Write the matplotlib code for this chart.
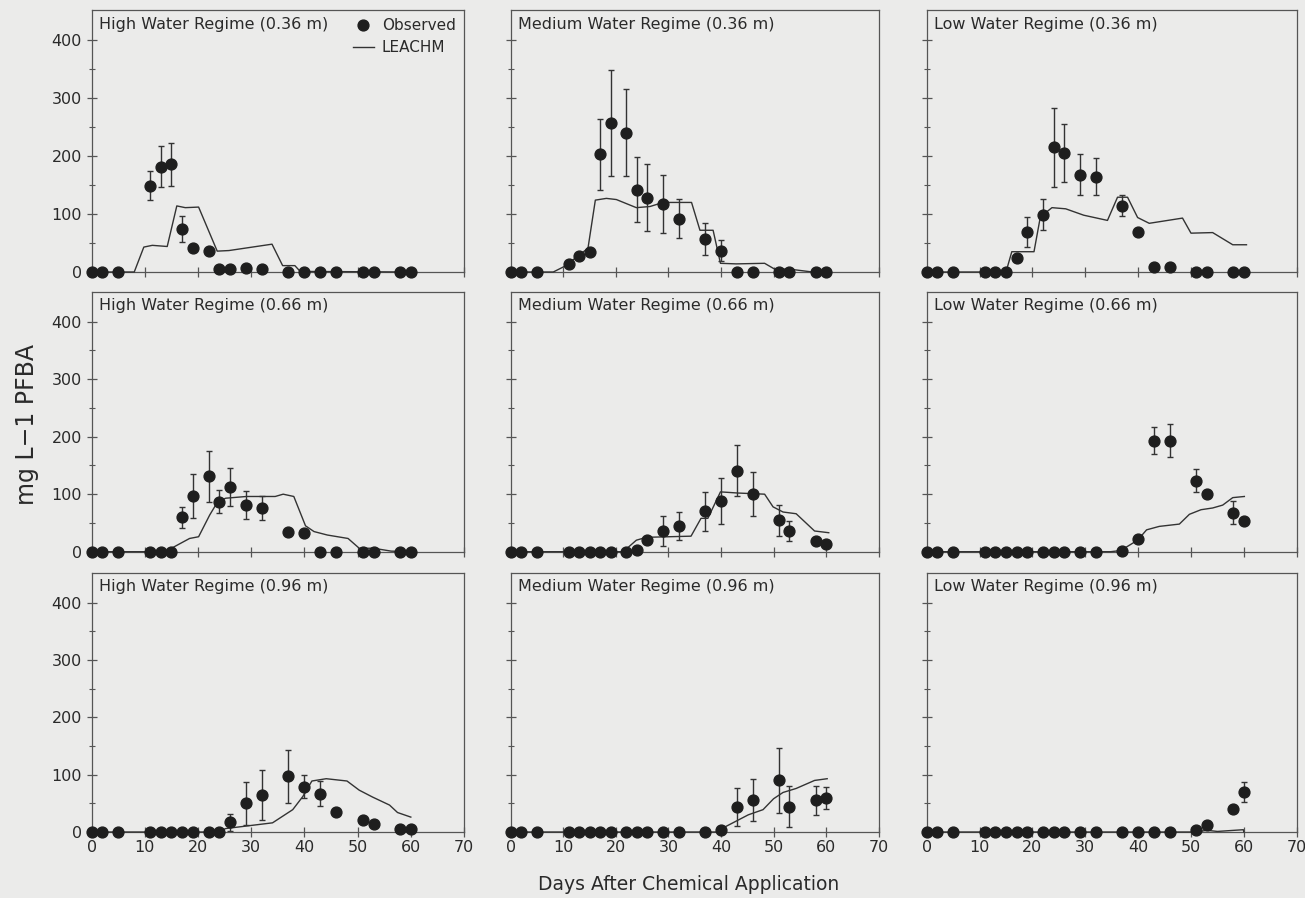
import matplotlib
matplotlib.use("Agg")
import matplotlib.pyplot as plt
import numpy as np

# sampling days for the observed PFBA concentrations (same in every panel)
days = [0, 2, 5, 11, 13, 15, 17, 19, 22, 24, 26, 29, 32, 37, 40, 43, 46, 51, 53, 58, 60]

regimes = ["High", "Medium", "Low"]
depths = ["0.36", "0.66", "0.96"]

# observed means, mg/L  (row = depth, col = regime)
obs_high_036 = [0, 0, 0, 149, 182, 186, 74, 41, 37, 6, 5, 7, 6, 0, 0, 0, 0, 0, 0, 0, 0]
obs_med_036 = [0, 0, 0, 13, 27, 35, 203, 257, 240, 142, 128, 118, 92, 57, 37, 0, 0, 0, 0, 0, 0]
obs_low_036 = [0, 0, 0, 0, 0, 0, 25, 69, 99, 215, 205, 168, 164, 114, 69, 8, 8, 0, 0, 0, 0]
obs_high_066 = [0, 0, 0, 0, 0, 0, 60, 97, 131, 87, 112, 81, 76, 35, 32, 0, 0, 0, 0, 0, 0]
obs_med_066 = [0, 0, 0, 0, 0, 0, 0, 0, 0, 3, 20, 36, 45, 70, 88, 141, 100, 55, 36, 18, 13]
obs_low_066 = [0, 0, 0, 0, 0, 0, 0, 0, 0, 0, 0, 0, 0, 2, 22, 193, 193, 123, 101, 68, 54]
obs_high_096 = [0, 0, 0, 0, 0, 0, 0, 0, 0, 0, 17, 50, 65, 97, 79, 67, 35, 21, 14, 5, 5]
obs_med_096 = [0, 0, 0, 0, 0, 0, 0, 0, 0, 0, 0, 0, 0, 0, 4, 43, 56, 90, 44, 55, 60]
obs_low_096 = [0, 0, 0, 0, 0, 0, 0, 0, 0, 0, 0, 0, 0, 0, 0, 0, 0, 4, 13, 41, 70]

# standard errors (0 = no bar drawn)
err_high_036 = [0, 0, 0, 25, 35, 37, 23, 0, 0, 0, 0, 0, 0, 0, 0, 0, 0, 0, 0, 0, 0]
err_med_036 = [0, 0, 0, 0, 5, 0, 61, 91, 75, 56, 58, 50, 34, 28, 18, 0, 0, 0, 0, 0, 0]
err_low_036 = [0, 0, 0, 0, 0, 0, 0, 26, 27, 68, 50, 35, 32, 18, 0, 0, 0, 0, 0, 0, 0]
err_high_066 = [0, 0, 0, 0, 0, 0, 18, 38, 44, 20, 33, 25, 21, 0, 0, 0, 0, 0, 0, 0, 0]
err_med_066 = [0, 0, 0, 0, 0, 0, 0, 0, 0, 0, 0, 26, 24, 34, 40, 45, 38, 27, 18, 0, 0]
err_low_066 = [0, 0, 0, 0, 0, 0, 0, 0, 0, 0, 0, 0, 0, 0, 0, 23, 29, 20, 0, 20, 0]
err_high_096 = [0, 0, 0, 0, 0, 0, 0, 0, 0, 0, 15, 37, 44, 46, 20, 22, 0, 0, 0, 0, 0]
err_med_096 = [0, 0, 0, 0, 0, 0, 0, 0, 0, 0, 0, 0, 0, 0, 0, 33, 36, 57, 36, 25, 19]
err_low_096 = [0, 0, 0, 0, 0, 0, 0, 0, 0, 0, 0, 0, 0, 0, 0, 0, 0, 0, 0, 0, 18]

# LEACHM simulated curves (day, mg/L)
sim_x_high_036 = [0, 8, 9.8, 11.4, 14.2, 16, 17.6, 20.1, 23.6, 25.8, 33.9, 35.9, 38.2, 39.2, 60]
sim_y_high_036 = [0, 0, 43, 46, 44, 114, 111, 112, 36, 37, 48, 11, 11, 1, 0]
sim_x_med_036 = [0, 8.1, 10.3, 14.7, 16.1, 18.2, 20.1, 23.9, 26.5, 29, 34.4, 36, 38.5, 39.9, 42.9, 48.3, 50.2, 53, 57.4, 60]
sim_y_med_036 = [0, 0, 10, 41, 124, 127, 125, 111, 113, 120, 120, 72, 72, 15, 14, 15, 5, 5, 0, 0]
sim_x_low_036 = [0, 15, 16.1, 20.3, 21.5, 23.7, 26.3, 29.7, 34.2, 36.1, 38, 39.9, 42.1, 48.4, 50, 54.1, 57.9, 60.5]
sim_y_low_036 = [0, 0, 35, 35, 95, 111, 109, 98, 89, 129, 129, 94, 84, 93, 67, 68, 47, 47]
sim_x_high_066 = [0, 14, 15, 18.4, 20.1, 22.2, 23.7, 25.2, 29.1, 34.5, 36, 38, 40.2, 41.8, 44.3, 48.2, 50.3, 53, 56.3, 60]
sim_y_high_066 = [0, 0, 6, 23, 26, 64, 87, 93, 96, 96, 100, 96, 45, 35, 29, 23, 6, 6, 1, 0]
sim_x_med_066 = [0, 21.4, 23.9, 25.8, 34.3, 36.2, 37.5, 39.9, 43.2, 48.3, 49.9, 51.8, 54.3, 57.8, 60.5]
sim_y_med_066 = [0, 0, 20, 25, 27, 58, 58, 104, 102, 100, 78, 69, 66, 36, 33]
sim_x_low_066 = [0, 34.8, 36.7, 39.9, 41.6, 44, 47.8, 49.7, 51.9, 54.1, 56, 57.9, 60.1]
sim_y_low_066 = [0, 0, 2, 20, 38, 44, 48, 65, 73, 76, 81, 94, 96]
sim_x_high_096 = [0, 23.6, 25.2, 34, 37.8, 39.7, 41.4, 44.1, 48, 50.3, 52.8, 56, 57.5, 60]
sim_y_high_096 = [0, 0, 6, 16, 39, 62, 89, 93, 89, 73, 61, 47, 34, 26]
sim_x_med_096 = [0, 39.5, 41, 45.2, 48, 50, 51.8, 54.3, 57.8, 60.2]
sim_y_med_096 = [0, 0, 10, 30, 39, 58, 69, 76, 90, 93]
sim_x_low_096 = [0, 51, 53, 55, 59.9, 60]
sim_y_low_096 = [0, 0, 3, 1, 4, 0]

obs = [[obs_high_036, obs_med_036, obs_low_036],
       [obs_high_066, obs_med_066, obs_low_066],
       [obs_high_096, obs_med_096, obs_low_096]]
err = [[err_high_036, err_med_036, err_low_036],
       [err_high_066, err_med_066, err_low_066],
       [err_high_096, err_med_096, err_low_096]]
sim_x = [[sim_x_high_036, sim_x_med_036, sim_x_low_036],
         [sim_x_high_066, sim_x_med_066, sim_x_low_066],
         [sim_x_high_096, sim_x_med_096, sim_x_low_096]]
sim_y = [[sim_y_high_036, sim_y_med_036, sim_y_low_036],
         [sim_y_high_066, sim_y_med_066, sim_y_low_066],
         [sim_y_high_096, sim_y_med_096, sim_y_low_096]]

bg = "#ebebea"
ink = "#2a2a2a"
plt.rcParams["font.family"] = ["DejaVu Sans"]
plt.rcParams["text.color"] = ink
plt.rcParams["axes.edgecolor"] = "#555555"
plt.rcParams["xtick.color"] = "#555555"
plt.rcParams["ytick.color"] = "#555555"
plt.rcParams["xtick.labelcolor"] = ink
plt.rcParams["ytick.labelcolor"] = ink

fig = plt.figure(figsize=(13.05, 8.98), dpi=100, facecolor=bg)

# axes boxes in pixels (left, right) and (top, bottom)
col_px = [(91.7, 464), (510.7, 878.7), (926.7, 1296.7)]
row_px = [(10, 272), (291.7, 551.7), (573, 832)]
W, H = 1305, 898

for r in range(3):
    for c in range(3):
        x0, x1 = col_px[c]
        y0, y1 = row_px[r]
        ax = fig.add_axes([x0 / W, 1 - y1 / H, (x1 - x0) / W, (y1 - y0) / H])
        ax.set_facecolor(bg)
        ax.set_xlim(0, 70)
        ax.set_ylim(0, 452)
        ax.set_xticks(np.arange(0, 71, 10))
        ax.set_yticks(np.arange(0, 401, 100))
        ax.set_yticks(np.arange(50, 401, 100), minor=True)
        ax.tick_params(direction="inout", length=7, width=0.9, labelsize=11.5)
        ax.tick_params(axis="x", pad=2)
        ax.tick_params(which="minor", direction="inout", length=5, width=0.8)
        for sp in ax.spines.values():
            sp.set_linewidth(0.9)
        if c != 0:
            ax.set_yticklabels([])
        if r != 2:
            ax.set_xticklabels([])

        y = np.array(obs[r][c], dtype=float)
        e = np.array(err[r][c], dtype=float)
        d = np.array(days, dtype=float)
        m = e > 0
        if m.any():
            ax.errorbar(d[m], y[m], yerr=e[m], fmt="none", ecolor="#333333",
                        elinewidth=1.0, capsize=2, capthick=1.0, clip_on=False, zorder=2)
        ax.plot(sim_x[r][c], sim_y[r][c], color="#333333", lw=1.0, zorder=3,
                label="LEACHM", clip_on=False)
        ax.plot(d, y, "o", color="#1e1e1e", ms=7.8, zorder=4, clip_on=False,
                label="Observed")

        ax.text(0.02, 0.975, f"{regimes[c]} Water Regime ({depths[r]} m)",
                transform=ax.transAxes, ha="left", va="top", fontsize=11.5)

        if r == 0 and c == 0:
            h, l = ax.get_legend_handles_labels()
            ax.legend(h[::-1], l[::-1], loc="upper right", frameon=False,
                      fontsize=11, handlelength=1.4, handletextpad=0.5,
                      borderaxespad=0.15, labelspacing=0.45)

fig.text(0.021, 0.527, "mg L\u22121 PFBA", rotation=90, ha="center", va="center",
         fontsize=17)
fig.text(0.528, 0.0145, "Days After Chemical Application", ha="center",
         va="center", fontsize=13.5)

fig.savefig("out.png", dpi=100, facecolor=bg)
